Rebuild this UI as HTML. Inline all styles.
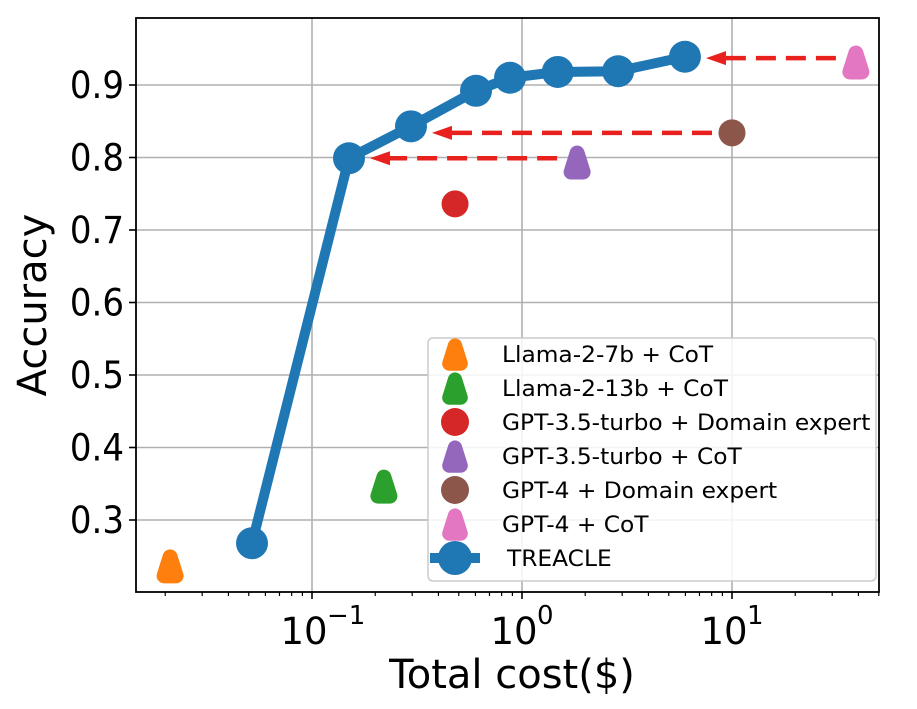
<!DOCTYPE html>
<html><head><meta charset="utf-8"><style>body{margin:0;background:#fff}svg{display:block;font-family:"DejaVu Sans","Liberation Sans",sans-serif}</style></head>
<body>
<svg id="chart" width="917" height="709" viewBox="0 0 917 709" xmlns="http://www.w3.org/2000/svg"></svg>
<script>
const treacleCost=[0.0518,0.150,0.296,0.604,0.877,1.48,2.87,5.97];
const treacleAcc=[0.268,0.799,0.843,0.892,0.910,0.918,0.919,0.939];
const modelNames=["Llama-2-7b + CoT","Llama-2-13b + CoT","GPT-3.5-turbo + Domain expert","GPT-3.5-turbo + CoT","GPT-4 + Domain expert","GPT-4 + CoT"];
const modelCost=[0.0211,0.22,0.48,1.83,10.0,38.9];
const modelAcc=[0.234,0.344,0.736,0.791,0.834,0.929];
const modelShape=["tri","tri","circle","tri","circle","tri"];
const modelColor=["#ff7f0e","#2ca02c","#d62728","#9467bd","#8c564b","#e377c2"];
const arrowFromCost=[1.83,10.0,38.9];
const arrowToCost=[0.150,0.296,5.97];
const arrowAcc=[0.799,0.834,0.937];
const yTicks=[0.3,0.4,0.5,0.6,0.7,0.8,0.9];
const xTicks=[0.1,1,10];
const xTickLabels=["10","10","10"];
const xTickExp=["−1","0","1"];

const L=136,R=879,T=18,B=592;
const X=v=>522+210*Math.log10(v);
const Y=v=>85+(0.9-v)*725;
const svg=document.getElementById('chart');
const NS="http://www.w3.org/2000/svg";
function mk(tag,attrs,parent){const e=document.createElementNS(NS,tag);for(const k in attrs)e.setAttribute(k,attrs[k]);(parent||svg).appendChild(e);return e;}
function tri(cx,cy,color,parent,s){s=s||1;return mk('path',{d:`M${cx},${cy-11*s} L${cx+6*s},${cy+8*s} L${cx-6*s},${cy+8*s} Z`,fill:color,stroke:color,'stroke-width':15*s,'stroke-linejoin':'round'},parent);}

// grid
yTicks.forEach(t=>{const g=mk('line',{x1:L,x2:R,y1:Y(t),y2:Y(t),stroke:'#b0b0b0','stroke-width':1.6});


mk('line',{x1:L-7,x2:L,y1:Y(t),y2:Y(t),stroke:'#000','stroke-width':1.6});
const tx=mk('text',{x:L-12,y:Y(t)+13,'font-size':37,'text-anchor':'end',fill:'#000',transform:`translate(${L-12},0) scale(0.92,1) translate(${-(L-12)},0)`});tx.textContent=t.toFixed(1);

});
xTicks.forEach((t,i)=>{const g=mk('line',{x1:X(t),x2:X(t),y1:T,y2:B,stroke:'#b0b0b0','stroke-width':1.6});


mk('line',{x1:X(t),x2:X(t),y1:B,y2:B+7,stroke:'#000','stroke-width':1.6});
const tx=mk('text',{x:X(t)-8,y:B+52,'font-size':37,'text-anchor':'middle',fill:'#000'});tx.textContent=xTickLabels[i];


const ex=mk('text',{x:X(t)+15,y:B+32,'font-size':26,'text-anchor':'start',fill:'#000'});ex.textContent=xTickExp[i];});
// minor ticks
for(let d=-2;d<=1;d++)for(let m=2;m<=9;m++){const v=m*Math.pow(10,d);const x=X(v);if(x>L&&x<R)mk('line',{x1:x,x2:x,y1:B,y2:B+4,stroke:'#000','stroke-width':1.2});}

// arrows
arrowAcc.forEach((a,i)=>{const y=Y(a);const x0=X(arrowFromCost[i])-20,tip=X(arrowToCost[i])+21;
const ln=mk('line',{x1:x0,x2:tip+16,y1:y,y2:y,stroke:'#e8201e','stroke-width':4.5,'stroke-dasharray':'20,10'});


mk('path',{d:`M${tip},${y} L${tip+20},${y-7} L${tip+20},${y+7} Z`,fill:'#e8201e'});});

// model markers
modelCost.forEach((c,i)=>{let m;if(modelShape[i]==='tri')m=tri(X(c),Y(modelAcc[i]),modelColor[i]);else m=mk('circle',{cx:X(c),cy:Y(modelAcc[i]),r:13.5,fill:modelColor[i]});

});

// treacle line
const line=mk('polyline',{points:treacleCost.map((c,i)=>X(c)+','+Y(treacleAcc[i])).join(' '),fill:'none',stroke:'#1f77b4','stroke-width':10,'stroke-linejoin':'round'});


treacleCost.forEach((c,i)=>{const p=mk('circle',{cx:X(c),cy:Y(treacleAcc[i]),r:16,fill:'#1f77b4'});

});

// frame
mk('rect',{x:L,y:T,width:R-L,height:B-T,fill:'none',stroke:'#000','stroke-width':1.8});

// legend
const lg=mk('g',{});


mk('rect',{x:428,y:338,width:448,height:243,rx:5,fill:'#fff','fill-opacity':0.85,stroke:'#cccccc','stroke-width':1.5},lg);
const names=modelNames.concat(["TREACLE"]);
names.forEach((n,i)=>{const y=354+i*34;
let m;
if(i<6){if(modelShape[i]==='tri')m=tri(455,y+2,modelColor[i],lg,0.95);else m=mk('circle',{cx:455,cy:y,r:14,fill:modelColor[i]},lg);}
else{mk('line',{x1:430,x2:480,y1:y,y2:y,stroke:'#1f77b4','stroke-width':10},lg);m=mk('circle',{cx:455,cy:y,r:17,fill:'#1f77b4'},lg);}
const tx0=i<6?502:507;
const t=mk('text',{x:tx0,y:y+8,'font-size':22,fill:'#000',transform:`translate(${tx0},0) scale(1.06,1) translate(${-tx0},0)`},lg);t.textContent=n;

});

// axis titles
const yt=mk('text',{x:0,y:0,'font-size':40,'text-anchor':'middle',transform:'translate(46,305) rotate(-90)',fill:'#000'});yt.textContent='Accuracy';


const xt=mk('text',{x:512,y:688,'font-size':40,'text-anchor':'middle',fill:'#000'});xt.textContent='Total cost($)';


</script>
</body></html>
